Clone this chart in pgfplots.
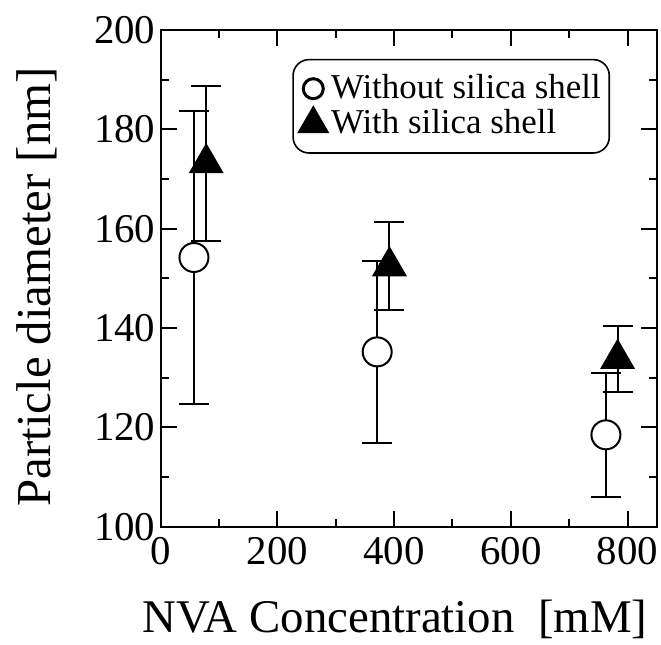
\documentclass[border=0pt]{standalone}
\usepackage{fontspec}
\setmainfont{Liberation Serif}
\usepackage{pgfplots}
\pgfplotsset{compat=1.18}

\pgfplotstableread{
x   y      e
57  154.2  29.5
371 135.2  18.3
763 118.5  12.45
}\without

\pgfplotstableread{
x   y      e
78  173.2  15.6
392 152.45 8.85
783 133.8  6.6
}\withshell

\begin{document}
\begin{tikzpicture}
\begin{axis}[
    width=248bp, height=248.35bp, scale only axis,
    xmin=0, xmax=850, ymin=100, ymax=200,
    xtick={0,200,...,800}, ytick={100,120,...,200},
    minor x tick num=1, minor y tick num=1,
    major tick length=8bp, minor tick length=4bp,
    every tick/.style={black, line width=1bp},
    axis line style={line width=1bp},
    tick label style={font=\fontsize{20.5}{21}\selectfont},
    /pgf/number format/assume math mode=true,
    xticklabel style={inner sep=0pt, yshift=-5bp},
    yticklabel style={inner sep=0pt, xshift=-2.5bp},
    xlabel={NVA Concentration\ \ [mM]},
    ylabel={Particle diameter [nm]},
    xlabel style={at={(axis description cs:0.472,-0.212)}, anchor=base,
      font=\fontsize{23.5}{26}\selectfont},
    ylabel style={at={(axis description cs:-0.223,0.483)}, anchor=base,
      font=\fontsize{24.5}{26}\selectfont},
    legend style={at={(axis description cs:0.906,0.942)}, anchor=north east,
      draw=black, line width=0.8bp, rounded corners=8bp,
      font=\fontsize{17.5}{17.5}\selectfont,
      inner xsep=2.75bp, inner ysep=5.75bp, row sep=0bp,
      nodes={inner sep=1.5bp, text depth=2.5bp}},
    legend cell align=left,
]
\addlegendimage{only marks, mark=*, mark size=5bp,
  mark options={fill=white, draw=black, line width=1.5bp}}
\addlegendentry{Without silica shell}
\addlegendimage{only marks, mark=triangle*, mark size=8.5bp,
  mark options={fill=black, draw=black}}
\addlegendentry{With silica shell}

\addplot[only marks, forget plot, mark=*, mark size=7.25bp,
  mark options={fill=white, draw=black, line width=1bp},
  error bars/.cd, y dir=both, y explicit,
  error bar style={line width=1bp, black},
  error mark options={rotate=90, mark size=7.5bp, line width=1bp, black}]
  table[x=x, y=y, y error=e] {\without};

\addplot[only marks, forget plot, mark=triangle*, mark size=9.7bp,
  mark options={fill=black, draw=black},
  error bars/.cd, y dir=both, y explicit,
  error bar style={line width=1bp, black},
  error mark options={rotate=90, mark size=7.5bp, line width=1bp, black}]
  table[x=x, y=y, y error=e] {\withshell};
\end{axis}
\pgfresetboundingbox
\path[use as bounding box] ([shift={(-80.35bp,-58.65bp)}]current axis.south west)
  rectangle ([shift={(2.15bp,15bp)}]current axis.north east);
\end{tikzpicture}
\end{document}
